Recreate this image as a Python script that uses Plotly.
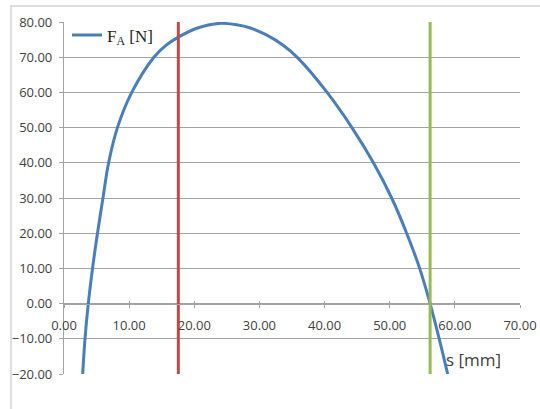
import plotly.graph_objects as go

# Curve F_A [N] vs s [mm]
s_mm = [2.87, 3.22, 3.73, 4.38, 5.14, 5.98, 6.85, 8.2, 10.4, 13.8, 15.6,
        17.55, 20.5, 23.8, 26.5, 28.6, 31.0, 33.7, 36.0, 40.3, 44.2, 47.5,
        50.3, 52.6, 54.6, 56.2, 57.6, 58.9]
F_A = [-20, -10, 0, 10, 20, 30, 40, 50, 60, 70, 73.3,
       75.7, 78.3, 79.6, 79.2, 78.3, 76.4, 73.3, 69.6, 60.2, 50, 40,
       30, 20, 10, 0, -10, -20]

# vertical marker lines
red_x = [17.55, 17.55]
red_y = [-20, 80]
green_x = [56.2, 56.2]
green_y = [-20, 80]

x_ticks = [0, 10, 20, 30, 40, 50, 60, 70]
y_ticks = [-20, -10, 0, 10, 20, 30, 40, 50, 60, 70, 80]

GRID = "#a3a3a3"
TXT = "#404040"

fig = go.Figure()
fig.add_trace(go.Scatter(x=s_mm, y=F_A, mode="lines",
                         line=dict(color="#4A7EBB", width=3, shape="spline", smoothing=1.0),
                         name="F<sub>A</sub> [N]", showlegend=True))
fig.add_trace(go.Scatter(x=red_x, y=red_y, mode="lines",
                         line=dict(color="#BE4B48", width=3), showlegend=False))
fig.add_trace(go.Scatter(x=green_x, y=green_y, mode="lines",
                         line=dict(color="#98B954", width=3), showlegend=False))
fig.add_trace(go.Scatter(x=[None], y=[None], xaxis="x2", showlegend=False))

fig.update_layout(
    width=540, height=409,
    margin=dict(l=64, r=20, t=22, b=35, autoexpand=False),
    paper_bgcolor="white", plot_bgcolor="white",
    font=dict(family="Open Sans", size=13, color=TXT),
    xaxis=dict(range=[0, 70], tickvals=x_ticks, tickformat=".2f",
               anchor="free", position=0.2, automargin=False,
               showline=True, linecolor=GRID, linewidth=1.2,
               ticks="outside", ticklen=3, tickcolor=GRID, tickwidth=1.2,
               showgrid=False, zeroline=False, ticklabelstandoff=7,
               tickfont=dict(family="Open Sans", size=13, color=TXT)),
    xaxis2=dict(range=[0, 70], tickvals=x_ticks, overlaying="x",
                anchor="free", position=0.2, side="bottom", automargin=False,
                showline=False, ticks="inside", ticklen=3, tickcolor=GRID,
                tickwidth=1.2, showticklabels=False, showgrid=False, zeroline=False),
    yaxis=dict(range=[-20, 80], tickvals=y_ticks, tickformat=".2f",
               automargin=False,
               showline=True, linecolor=GRID, linewidth=1.2,
               ticks="outside", ticklen=4, tickcolor=GRID, tickwidth=1.2,
               showgrid=True, gridcolor=GRID, gridwidth=1.2, zeroline=False,
               ticklabelstandoff=4,
               tickfont=dict(family="Open Sans", size=13, color=TXT)),
    legend=dict(x=0.0066, y=1.013, xanchor="left", yanchor="top",
                bgcolor="rgba(0,0,0,0)",
                font=dict(family="Liberation Serif", size=17, color="#222222")),
    shapes=[dict(type="rect", xref="paper", yref="paper",
                 x0=-0.1162, y0=-0.2, x1=1.1, y1=1.0455,
                 line=dict(color="#d4d4d4", width=1.5), layer="below")],
    annotations=[dict(text="s [mm]", xref="paper", yref="paper",
                      x=0.9625, y=0.04, xanchor="right", yanchor="middle",
                      showarrow=False,
                      font=dict(family="Open Sans", size=17, color=TXT))],
)

fig.write_html("out.html")
